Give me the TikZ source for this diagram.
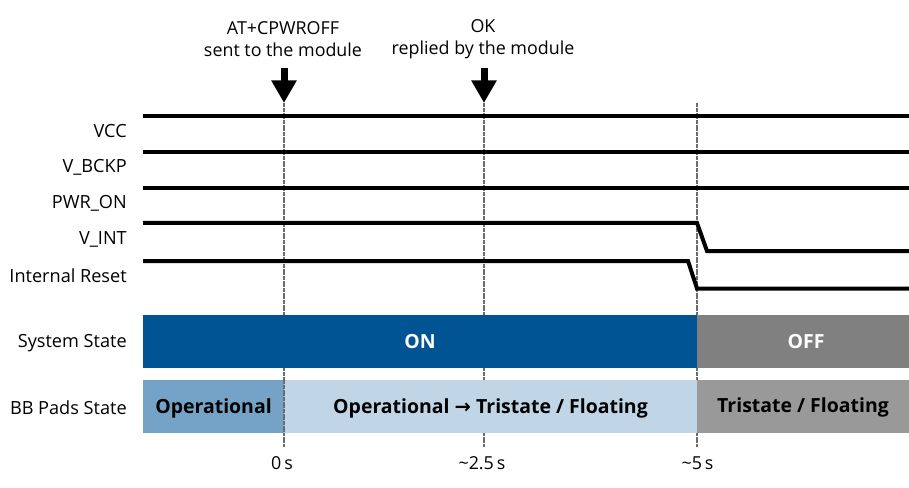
\documentclass[tikz,border=0pt]{standalone}
\usepackage{fontspec}
\setmainfont{Open Sans}
\newfontfamily\arrowfont{DejaVu Sans}
\usetikzlibrary{arrows.meta}
\definecolor{sysblue}{RGB}{0,84,147}
\definecolor{offgray}{RGB}{128,128,128}
\definecolor{padblue}{RGB}{116,163,199}
\definecolor{padlight}{RGB}{192,213,230}
\definecolor{padgray}{RGB}{153,153,153}
\tikzset{
	signal/.style={line width=3pt},
	guide/.style={draw=gray!85!black, line width=1.1pt, dash pattern=on 1.5pt off 0.3pt},
	siglabel/.style={anchor=east, inner sep=0pt, font=\fontsize{13.6}{15}\selectfont},
	toplabel/.style={align=center, inner sep=0pt, font=\fontsize{13.4}{16.5}\selectfont},
	timelabel/.style={inner sep=0pt, font=\fontsize{13.4}{15}\selectfont},
	bartext/.style={inner sep=0pt, font=\fontsize{14.6}{16}\selectfont\bfseries},
	event/.style={line width=5.25pt, -{Triangle[width=18pt, length=17pt]}}
}
\begin{document}
\begin{tikzpicture}[x=0.75pt, y=-0.75pt]
			\useasboundingbox (0,0) rectangle (909,488);

			% Time marks
			\coordinate (t0) at (284,103);
			\coordinate (t1) at (484,103);
			\coordinate (t2) at (697,103);

			% Draw the guide lines
			\draw[guide] (t0) -- (284,447);
			\draw[guide] (t1) -- (484,447);
			\draw[guide] (t2) -- (697,447);

			% Draw the events
			\node[toplabel] (cmd) at (283,39) {AT+CPWROFF\\sent to the module};
			\node[toplabel] (ok) at (483,39) {OK\\replied by the module};
			\coordinate (cmdstart) at (284,68);
			\coordinate (okstart) at (484,68);
			\draw[event] (cmdstart) -- (t0);
			\draw[event] (okstart) -- (t1);

			% Draw the signals
			\node[siglabel] (vcc) at (127,131) {VCC};
			\node[siglabel] (vbckp) at (127,167) {V\_BCKP};
			\node[siglabel] (pwron) at (127,203) {PWR\_ON};
			\node[siglabel] (vint) at (127,239) {V\_INT};
			\node[siglabel] (reset) at (127,276) {Internal Reset};
			\draw[signal] (143,116) -- (909,116);
			\draw[signal] (143,152) -- (909,152);
			\draw[signal] (143,188) -- (909,188);
			\draw[signal] (143,223) -- (697,223) -- (707,251) -- (909,251);
			\draw[signal] (143,261) -- (688,261) -- (697,288.5) -- (909,288.5);

			% Draw the system state
			\node[siglabel] (sys) at (127,343) {System State};
			\fill[sysblue] (143,315) rectangle (697,368);
			\fill[offgray] (697,315) rectangle (909,368);
			\node[bartext, white] (on) at (420,341.5) {ON};
			\node[bartext, white] (off) at (806,341.5) {OFF};

			% Draw the pads state
			\node[siglabel] (pads) at (127,408) {BB Pads State};
			\fill[padblue] (143,380) rectangle (284,433);
			\fill[padlight] (284,380) rectangle (697,433);
			\fill[padgray] (697,380) rectangle (909,433);
			\draw[guide] (284,380) -- (284,433);
			\node[bartext] (oper) at (213.5,408.5) {Operational};
			\node[bartext] (trans) at (490.5,408.5) {Operational {\arrowfont\bfseries →} Tristate / Floating};
			\node[bartext] (tri) at (803,407.5) {Tristate / Floating};

			% Time axis
			\node[timelabel] (s0) at (282,463) {0\,s};
			\node[timelabel] (s1) at (482,463) {\textasciitilde2.5\,s};
			\node[timelabel] (s2) at (697.5,463) {\textasciitilde5\,s};
		\end{tikzpicture}
\end{document}
